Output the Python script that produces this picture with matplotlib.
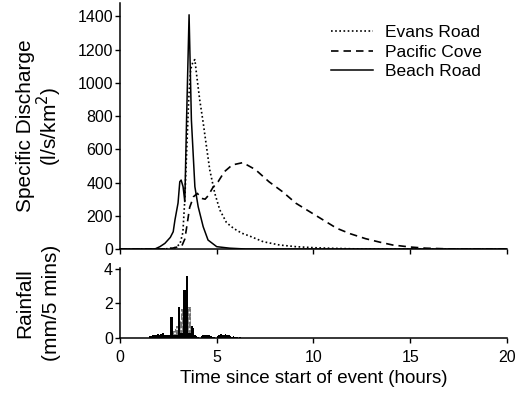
import numpy as np
import matplotlib
matplotlib.use("Agg")
import matplotlib.pyplot as plt

plt.rcParams["font.family"] = ["Liberation Sans", "DejaVu Sans"]
plt.rcParams["hatch.linewidth"] = 0.8

# discharge hydrographs (hours, l/s/km2)
evans_t = [0, 2.3, 2.84, 3.1, 3.25, 3.35, 3.45, 3.55, 3.65, 3.78, 3.87, 3.95, 4.12, 4.3,
           4.47, 4.64, 4.9, 5.16, 5.5, 5.75, 6.0, 6.3, 6.7, 7.4, 8.25, 9.1, 10.0, 11.0, 12.5, 20]
evans_q = [0, 0, 8, 30, 100, 300, 600, 900, 1080, 1130, 1140, 1058, 898, 760,
           616, 476, 335, 235, 160, 135, 115, 95, 78, 44, 24, 14, 8, 4, 0, 0]

pacific_t = [0, 2.5, 2.9, 3.2, 3.35, 3.45, 3.6, 3.8, 4.0, 4.2, 4.4, 4.55, 4.8, 5.07, 5.4, 5.8,
             6.35, 7.0, 7.7, 8.4, 9.1, 9.8, 10.5, 11.2, 11.9, 12.7, 13.4, 14.1, 15.0, 15.8, 17.2, 20]
pacific_q = [0, 0, 10, 20, 60, 134, 250, 315, 335, 305, 300, 320, 370, 405, 466, 506,
             520, 478, 405, 345, 275, 225, 175, 125, 92, 62, 42, 24, 12, 5, 0, 0]

beach_t = [0, 1.8, 2.06, 2.32, 2.6, 2.75, 2.84, 3.0, 3.09, 3.16, 3.26, 3.35, 3.44, 3.57,
           3.69, 3.87, 4.04, 4.3, 4.55, 5.0, 5.67, 6.5, 20]
beach_q = [0, 0, 14, 34, 70, 104, 175, 277, 405, 415, 375, 285, 777, 1410,
           777, 375, 255, 134, 54, 14, 5, 0, 0]

# rainfall, 5 minute totals starting at 1.5 h
rain_start = 1.5
rain_black = [0.10, 0.12, 0.15, 0.20, 0.20, 0.25, 0.20, 0.25, 0.30, 0.20, 0.15, 0.20, 0.15,
              1.2, 1.2, 0.2, 0.2, 0.2, 1.8, 0.3, 0.3, 2.8, 2.8, 3.6, 0.3, 0.3, 0.7, 0.6,
              0.2, 0.1, 0.05, 0.0, 0.1, 0.15, 0.2, 0.15, 0.2, 0.15, 0.1, 0.05,
              0.05, 0.0, 0.1, 0.2, 0.25, 0.2, 0.2, 0.25, 0.15, 0.2, 0.1, 0.05, 0.1, 0.05,
              0.05, 0.0, 0.05, 0.0, 0.0, 0.0]
rain_hatch = [0] * 15 + [0.4, 0.5, 0.7, 0.8, 1.0, 1.7, 1.4, 1.8, 1.9, 1.8, 1.8, 0.5, 0.4] + [0] * 32

rain_t = rain_start + np.arange(len(rain_black)) / 12.0

fig = plt.figure(figsize=(5.2, 3.94), dpi=100)
left, width = 0.2308, 0.744
ax1 = fig.add_axes([left, 0.368, width, 0.624])
ax2 = fig.add_axes([left, 0.142, width, 0.178])

ax1.plot(evans_t, evans_q, color="k", lw=1.2, linestyle=(0, (1, 1.5)), label="Evans Road")
ax1.plot(pacific_t, pacific_q, color="k", lw=1.2, linestyle=(0, (4.5, 3)), label="Pacific Cove")
ax1.plot(beach_t, beach_q, color="k", lw=1.1, label="Beach Road")

# stippled grey series under the black one
ax2.bar(rain_t, rain_hatch, width=1 / 12.0, align="edge", facecolor="0.45",
        edgecolor="white", hatch="....", linewidth=0)
ax2.bar(rain_t, rain_black, width=1 / 12.0, align="edge", color="k", linewidth=0)

for ax in (ax1, ax2):
    ax.set_xlim(0, 20)
    ax.spines["top"].set_visible(False)
    ax.spines["right"].set_visible(False)
    ax.spines["left"].set_linewidth(1.1)
    ax.spines["bottom"].set_linewidth(1.1)
    ax.tick_params(direction="out", length=3.5, width=1, labelsize=11.5, pad=1.5)
    ax.set_xticks([0, 5, 10, 15, 20])

ax1.set_ylim(0, 1480)
ax1.set_yticks(range(0, 1401, 200))
ax1.tick_params(axis="x", labelbottom=False)
ax2.set_ylim(0, 4.05)
ax2.set_yticks([0, 2, 4])
ax2.tick_params(axis="x", pad=5)

ax1.set_ylabel("Specific Discharge\n(l/s/km$^2$)", fontsize=15, linespacing=1.0)
ax1.yaxis.set_label_coords(-0.144, 0.5)
ax2.set_ylabel("Rainfall\n(mm/5 mins)", fontsize=15, linespacing=1.5)
ax2.yaxis.set_label_coords(-0.152, 0.5)
ax2.set_xlabel("Time since start of event (hours)", fontsize=13.5, labelpad=4)

ax1.legend(loc="upper left", bbox_to_anchor=(0.546, 0.91), frameon=False, fontsize=12.5,
           handlelength=2.4, handletextpad=0.7, labelspacing=0.25, borderpad=0, borderaxespad=0)

fig.savefig("out.png", dpi=100)
